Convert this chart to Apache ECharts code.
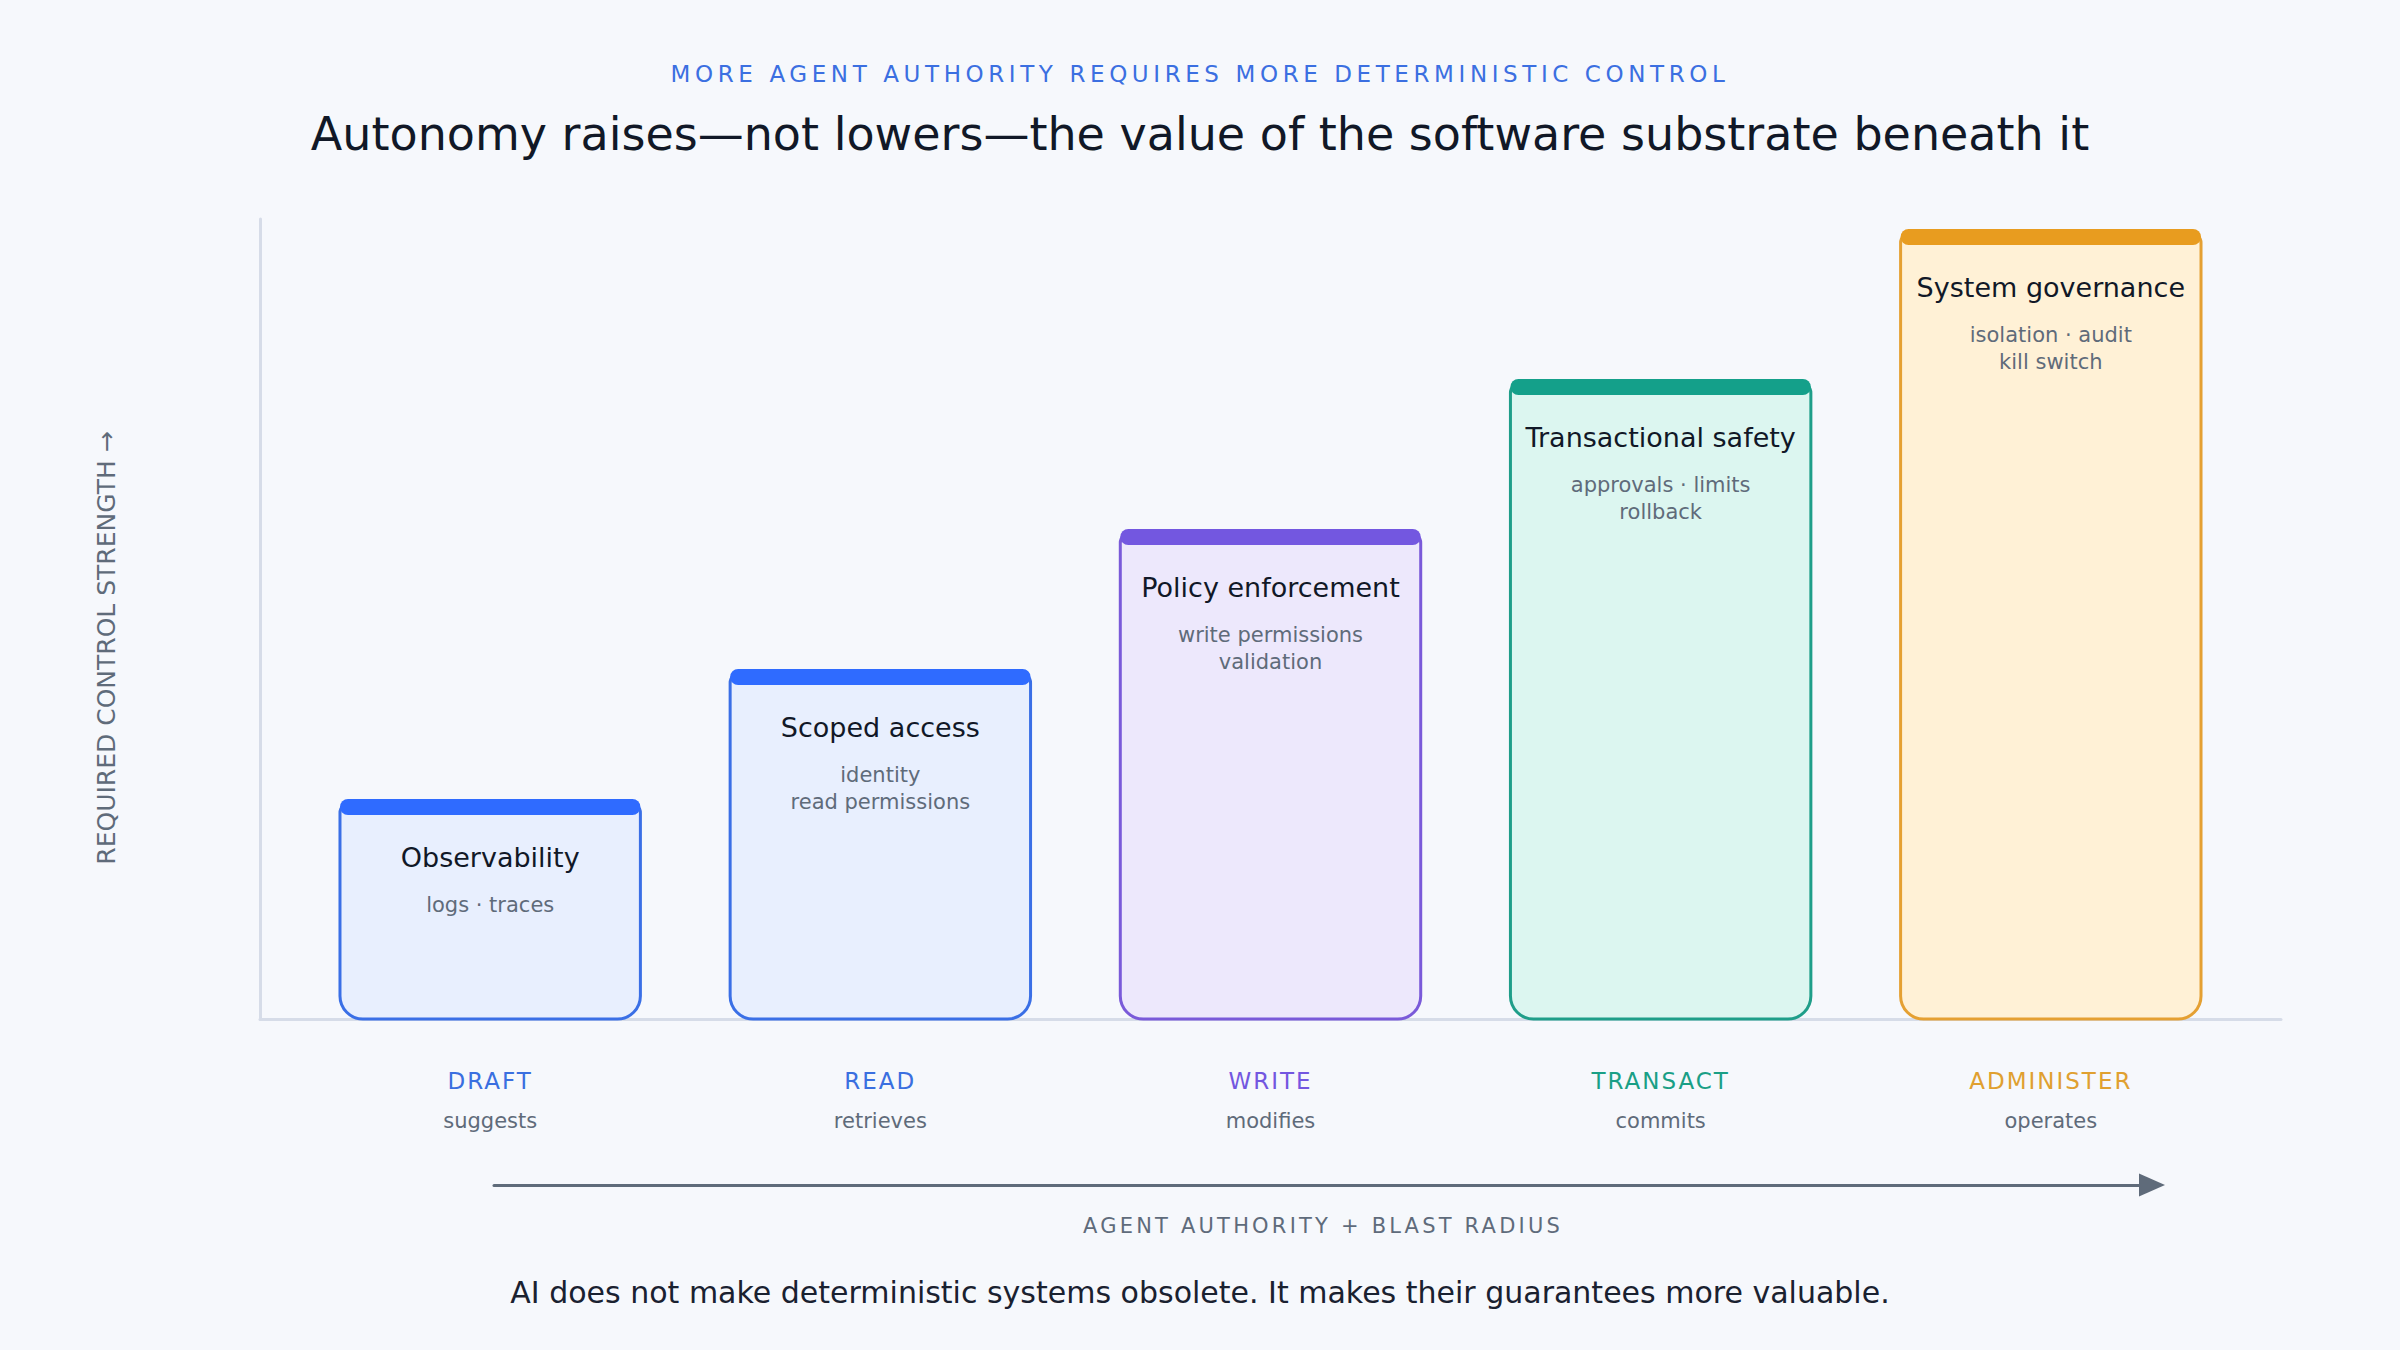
<!DOCTYPE html>
<html lang="en">
<head>
<meta charset="utf-8">
<title>Autonomy raises the value of the software substrate</title>
<script src="https://cdn.jsdelivr.net/npm/echarts@6.0.0/dist/echarts.min.js"></script>
<style>
  html, body { margin: 0; padding: 0; background: #f6f8fc; }
  #main { width: 2400px; height: 1350px; }
  /* tracked (letter-spaced) caps, hooked on their fill colour */
  #main text[fill="#3b6fe1" i] { letter-spacing: 4.6px; }
  #main text[fill="#3a6fe0" i], #main text[fill="#7357e0" i],
  #main text[fill="#1a9f86" i], #main text[fill="#e0a030" i] { letter-spacing: 2px; }
  #main text[fill="#5f6b7b" i] { letter-spacing: 3.2px; }
</style>
</head>
<body>
<div id="main"></div>
<script type="text/javascript">
// data
var categories = ['DRAFT', 'READ', 'WRITE', 'TRANSACT', 'ADMINISTER'];
var verbs = ['suggests', 'retrieves', 'modifies', 'commits', 'operates'];
var controls = ['Observability', 'Scoped access', 'Policy enforcement', 'Transactional safety', 'System governance'];
var details = ['logs \u00b7 traces', 'identity\nread permissions', 'write permissions\nvalidation', 'approvals \u00b7 limits\nrollback', 'isolation \u00b7 audit\nkill switch'];
var strength = [27.5, 43.75, 61.25, 80, 98.75];

// colours per stage
var lineColors = ['#3a6fe6', '#3a6fe6', '#7a5ad9', '#1f9e89', '#e5a032'];
var capColors = ['#2f6bff', '#2f6bff', '#7357e0', '#14a08a', '#e89c1f'];
var fillColors = ['#e8effe', '#e8effe', '#ede8fc', '#dcf6f0', '#fff1d6'];
var labelColors = ['#3a6fe0', '#3a6fe0', '#7357e0', '#1a9f86', '#e0a030'];

var myChart = echarts.init(document.getElementById('main'), null, { renderer: 'svg' });

var rich = { v: { fontSize: 21, color: '#5f6b7a', lineHeight: 40 } };
categories.forEach(function (c, i) {
    rich['c' + i] = { fontSize: 23, color: labelColors[i], lineHeight: 40 };
});

function renderStage(params, api) {
    var i = api.value(0);
    var top = api.coord([i, api.value(1)]);
    var base = api.coord([i, 0]);
    var w = api.size([1, 0])[0] * 0.77;
    var cx = top[0];
    return {
        type: 'group',
        children: [
            {
                type: 'rect',
                shape: { x: cx - w / 2, y: top[1] + 4, width: w, height: base[1] - top[1] - 4, r: [10, 10, 23, 23] },
                style: { fill: fillColors[i], stroke: lineColors[i], lineWidth: 3 }
            },
            {
                type: 'rect',
                shape: { x: cx - w / 2, y: top[1], width: w, height: 16, r: 8 },
                style: { fill: capColors[i] }
            },
            {
                type: 'text',
                x: cx, y: top[1] + 58,
                style: {
                    text: controls[i], fill: '#111827', fontSize: 27, fontFamily: 'DejaVu Sans',
                    align: 'center', verticalAlign: 'middle'
                }
            },
            {
                type: 'text',
                x: cx, y: top[1] + 92,
                style: {
                    text: details[i], fill: '#5f6b7a', fontSize: 21, lineHeight: 27, fontFamily: 'DejaVu Sans',
                    align: 'center', verticalAlign: 'top'
                }
            }
        ]
    };
}

var option = {
    backgroundColor: '#f6f8fc',
    textStyle: { fontFamily: 'DejaVu Sans' },
    animation: false,
    title: [
        {
            text: 'MORE AGENT AUTHORITY REQUIRES MORE DETERMINISTIC CONTROL',
            left: 'center', top: 54,
            textStyle: { fontSize: 23, fontWeight: 'normal', color: '#3b6fe1', lineHeight: 30 }
        },
        {
            text: 'Autonomy raises\u2014not lowers\u2014the value of the software substrate beneath it',
            left: 'center', top: 101,
            textStyle: { fontSize: 46, fontWeight: 'normal', color: '#111827', lineHeight: 56 }
        },
        {
            text: 'AI does not make deterministic systems obsolete. It makes their guarantees more valuable.',
            left: 'center', top: 1269,
            textStyle: { fontSize: 30, fontWeight: 'normal', color: '#1a2130', lineHeight: 36 }
        }
    ],
    grid: [
        { left: 260, right: 119, top: 219, bottom: 331 },
        { left: 494, right: 248, top: 1180, bottom: 165 }
    ],
    xAxis: [
        {
            type: 'value', gridIndex: 0, min: -0.59, max: 4.59,
            axisLine: { show: true, lineStyle: { color: '#d6dce8', width: 3 } },
            axisTick: { show: false },
            splitLine: { show: false },
            axisLabel: {
                customValues: [0, 1, 2, 3, 4],
                margin: 42,
                formatter: function (v) {
                    var i = Math.round(v);
                    return '{c' + i + '|' + categories[i] + '}\n{v|' + verbs[i] + '}';
                },
                rich: rich
            }
        },
        {
            type: 'value', gridIndex: 1, min: 0, max: 1,
            name: 'AGENT AUTHORITY + BLAST RADIUS',
            nameLocation: 'middle', nameGap: 30,
            nameTextStyle: { fontSize: 21, color: '#5f6b7b' },
            axisLine: {
                show: true, symbol: ['none', 'triangle'], symbolSize: [23, 26],
                lineStyle: { color: '#5f6b7a', width: 3 }
            },
            axisTick: { show: false },
            axisLabel: { show: false },
            splitLine: { show: false }
        }
    ],
    yAxis: [
        {
            type: 'value', gridIndex: 0, min: 0, max: 100,
            name: 'REQUIRED CONTROL STRENGTH \u2192',
            nameLocation: 'middle', nameRotate: 90, nameGap: 141,
            nameTextStyle: { fontSize: 25, color: '#5f6b7a', padding: [0, 58, 0, 0] },
            axisLine: { show: true, onZero: false, lineStyle: { color: '#d6dce8', width: 3 } },
            axisTick: { show: false },
            axisLabel: { show: false },
            splitLine: { show: false }
        },
        {
            type: 'value', gridIndex: 1, show: false
        }
    ],
    series: [
        {
            type: 'custom',
            xAxisIndex: 0, yAxisIndex: 0,
            renderItem: renderStage,
            encode: { x: 0, y: 1 },
            data: strength.map(function (v, i) { return [i, v]; }),
            z: 3
        }
    ]
};

myChart.setOption(option);
window.onresize = myChart.resize;
</script>
</body>
</html>
